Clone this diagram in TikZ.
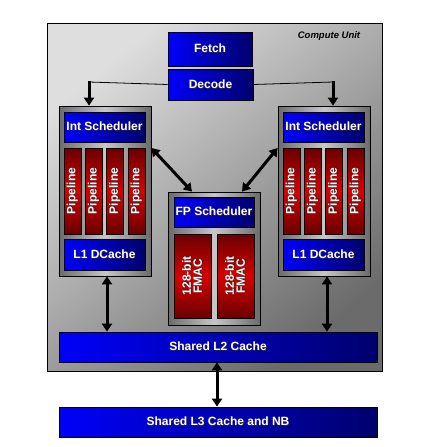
\documentclass[tikz,border=0pt]{standalone}
\usepackage{fontspec}
\setmainfont{Liberation Sans}
\usetikzlibrary{arrows.meta}
\definecolor{bblue}{RGB}{0,0,250}
\definecolor{dblue}{RGB}{0,0,110}
\definecolor{rdark}{RGB}{105,0,0}
\definecolor{rmid}{RGB}{215,0,0}
\newcommand\sh[1]{\leavevmode\rlap{\hspace{0.7pt}\raisebox{-0.7pt}{\textcolor{black!85}{#1}}}#1}
\tikzset{
  x=1pt, y=-1pt,
  bluebox/.style={draw=black, line width=0.8pt, left color=bblue, right color=dblue,
     text=white, font=\bfseries\fontsize{12}{13}\selectfont, inner sep=0pt},
  graybox/.style={draw=black, line width=0.8pt, left color=black!58, right color=black!58,
     middle color=black!22, inner sep=0pt},
  redbox/.style={draw=black, line width=0.6pt, top color=rdark, bottom color=rdark,
     middle color=rmid, inner sep=0pt},
  vtext/.style={text=white, font=\bfseries\fontsize{12}{11}\selectfont, rotate=90, align=center},
  big/.style={line width=3pt, black},
  bigarr/.style={big, -{Triangle[length=8pt,width=10pt]}},
  dblarr/.style={big, {Triangle[length=8pt,width=10pt]}-{Triangle[length=8pt,width=10pt]}},
}
\begin{document}
\begin{tikzpicture}
\useasboundingbox (0,0) rectangle (429,447);
\fill[white] (0,0) rectangle (429,447);
% outer compute unit
\node[draw=black, line width=0.8pt, top color=black!13, bottom color=black!58, shading angle=40,
      minimum width=335pt, minimum height=348pt, inner sep=0pt] (cu) at (214.5,197) {};
\node[font=\bfseries\itshape\fontsize{9.5}{10}\selectfont] (cul) at (329,36) {Compute Unit};
% fetch/decode
\node[bluebox, minimum width=84pt, minimum height=34pt] (fetch) at (210,49) {\sh{Fetch}};
\node[bluebox, minimum width=85pt, minimum height=31pt] (dec) at (210.5,84.5) {\sh{Decode}};
% left cluster
\node[graybox, minimum width=92pt, minimum height=170pt] (lc) at (105,191) {};
\node[bluebox, minimum width=81pt, minimum height=30pt] (lis) at (104.5,127) {\sh{Int Scheduler}};
\foreach \i/\cx in {1/72.5,2/93.8,3/115.2,4/136.5}{
  \node[redbox, minimum width=17pt, minimum height=86pt] (lp\i) at (\cx,191) {};
  \node[vtext] (lpt\i) at (lp\i) {\sh{Pipeline}};
}
\node[bluebox, minimum width=81pt, minimum height=31pt] (ll1) at (104.5,254.5) {\sh{L1 DCache}};
% right cluster
\node[graybox, minimum width=92pt, minimum height=170pt] (rc) at (324,191) {};
\node[bluebox, minimum width=81pt, minimum height=30pt] (ris) at (323.5,127) {\sh{Int Scheduler}};
\foreach \i/\cx in {1/291.5,2/312.8,3/334.2,4/355.5}{
  \node[redbox, minimum width=17pt, minimum height=86pt] (rp\i) at (\cx,191) {};
  \node[vtext] (rpt\i) at (rp\i) {\sh{Pipeline}};
}
\node[bluebox, minimum width=81pt, minimum height=31pt] (rl1) at (323.5,254.5) {\sh{L1 DCache}};
% FP cluster
\node[graybox, minimum width=92pt, minimum height=133pt] (fp) at (214,258.5) {};
\node[bluebox, minimum width=80pt, minimum height=30pt] (fps) at (214,212) {\sh{FP Scheduler}};
\node[redbox, minimum width=37pt, minimum height=84pt] (fm1) at (192.5,276) {};
\node[vtext] (fmt1) at (fm1) {\sh{128-bit}\\\sh{FMAC}};
\node[redbox, minimum width=37pt, minimum height=84pt] (fm2) at (235.5,276) {};
\node[vtext] (fmt2) at (fm2) {\sh{128-bit}\\\sh{FMAC}};
% L2, L3
\node[bluebox, minimum width=318pt, minimum height=30pt] (l2) at (218,347) {\sh{Shared L2 Cache}};
\node[bluebox, minimum width=318pt, minimum height=30pt] (l3) at (218,422) {\sh{Shared L3 Cache and NB}};
% connectors
\coordinate (ja) at (89,82);
\coordinate (jb) at (333,82);
\draw[line width=0.8pt] (dec.west) -- (ja);
\draw[line width=0.8pt] (dec.east) -- (jb);
\draw[bigarr] ([yshift=1pt]ja) -- (ja |- lc.north);
\draw[bigarr] ([yshift=1pt]jb) -- (jb |- rc.north);
\draw[dblarr] ([yshift=43pt]lc.east) -- ([xshift=-22pt]fp.north);
\draw[dblarr] ([yshift=43pt]rc.west) -- ([xshift=28pt]fp.north);
\draw[dblarr] ([xshift=2pt]lc.south) -- ([xshift=2pt]lc.south |- l2.north);
\draw[dblarr] ([xshift=3pt]rc.south) -- ([xshift=3pt]rc.south |- l2.north);
\draw[dblarr] (l2.south -| 217,0) -- (l3.north -| 217,0);
\end{tikzpicture}
\end{document}
